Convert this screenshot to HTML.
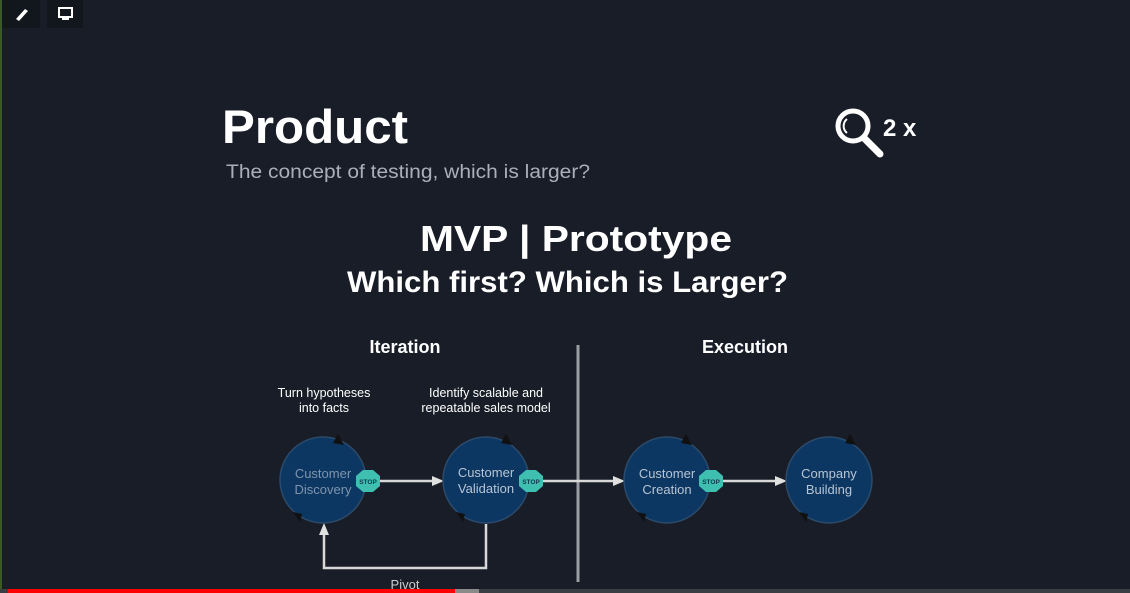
<!DOCTYPE html>
<html><head><style>
html,body{margin:0;padding:0;width:1130px;height:593px;overflow:hidden;background:#181d27;}
svg{display:block}
</style></head><body>
<svg width="1130" height="593" viewBox="0 0 1130 593" xmlns="http://www.w3.org/2000/svg" font-family="Liberation Sans, sans-serif">
<rect width="1130" height="593" fill="#181d27"/>
<rect x="0" y="0" width="2" height="593" fill="#3a5a20"/>
<rect x="2" y="0" width="38" height="28" fill="#12161d"/>
<rect x="47" y="0" width="36" height="28" fill="#12161d"/>
<path d="M16 19 L25 9 L28 11 L19 21 Z" fill="#fff"/>
<rect x="59" y="8" width="13" height="9" fill="none" stroke="#fff" stroke-width="2"/>
<rect x="62" y="18" width="7" height="2" fill="#fff"/>
<text x="222" y="143" font-size="47" font-weight="bold" fill="#fff" textLength="186" lengthAdjust="spacingAndGlyphs">Product</text>
<text x="226" y="178" font-size="19" fill="#aab0ba" textLength="364" lengthAdjust="spacingAndGlyphs">The concept of testing, which is larger?</text>
<circle cx="853" cy="126" r="15" fill="none" stroke="#fff" stroke-width="5"/>
<line x1="864" y1="138" x2="880" y2="154" stroke="#fff" stroke-width="7" stroke-linecap="round"/>
<path d="M847 119 A9 9 0 0 0 847 133" fill="none" stroke="#fff" stroke-width="2"/>
<text x="883" y="136" font-size="24" font-weight="bold" fill="#fff">2 x</text>
<text x="420" y="251" font-size="36" font-weight="bold" fill="#fff" textLength="312" lengthAdjust="spacingAndGlyphs">MVP | Prototype</text>
<text x="347" y="292" font-size="30" font-weight="bold" fill="#fff" textLength="441" lengthAdjust="spacingAndGlyphs">Which first? Which is Larger?</text>
<text x="405" y="353" font-size="18" font-weight="bold" fill="#fff" text-anchor="middle">Iteration</text>
<text x="745" y="353" font-size="18" font-weight="bold" fill="#fff" text-anchor="middle">Execution</text>
<text x="324" y="397" font-size="12.5" fill="#fff" text-anchor="middle">Turn hypotheses</text>
<text x="324" y="412" font-size="12.5" fill="#fff" text-anchor="middle">into facts</text>
<text x="486" y="397" font-size="12.5" fill="#fff" text-anchor="middle">Identify scalable and</text>
<text x="486" y="412" font-size="12.5" fill="#fff" text-anchor="middle">repeatable sales model</text>
<line x1="578" y1="345" x2="578" y2="582" stroke="#9a9ea4" stroke-width="3"/>
<g stroke="#d8d8d8" stroke-width="2.5" fill="none">
<line x1="378" y1="481" x2="436" y2="481"/>
<line x1="541" y1="481" x2="617" y2="481"/>
<line x1="720" y1="481" x2="779" y2="481"/>
<polyline points="486,524 486,568 324,568 324,532"/>
</g>
<g fill="#e0e0e0">
<path d="M444 481 L432 476 L432 486 Z"/>
<path d="M625 481 L613 476 L613 486 Z"/>
<path d="M787 481 L775 476 L775 486 Z"/>
<path d="M324 523 L319 535 L329 535 Z"/>
</g>
<g fill="#0c3763" stroke="#2c4a6a" stroke-width="1.5">
<circle cx="323" cy="480" r="43"/>
<circle cx="486" cy="480" r="43"/>
<circle cx="667" cy="480" r="43"/>
<circle cx="829" cy="480" r="43"/>
</g>
<g fill="#111">
<path d="M338 434 L344 445 L333 443 Z"/><path d="M300 522 L293 512 L302 514 Z"/>
<path d="M506 434 L512 445 L501 443 Z"/><path d="M463 522 L456 512 L465 514 Z"/>
<path d="M686 434 L692 445 L681 443 Z"/><path d="M644 522 L637 512 L646 514 Z"/>
<path d="M850 434 L856 445 L845 443 Z"/><path d="M806 522 L799 512 L808 514 Z"/>
</g>
<g font-size="13" text-anchor="middle">
<text x="323" y="478" fill="#7f94ab">Customer</text><text x="323" y="494" fill="#7f94ab">Discovery</text>
<text x="486" y="477" fill="#b7c4d2">Customer</text><text x="486" y="493" fill="#b7c4d2">Validation</text>
<text x="667" y="478" fill="#b7c4d2">Customer</text><text x="667" y="494" fill="#b7c4d2">Creation</text>
<text x="829" y="478" fill="#b7c4d2">Company</text><text x="829" y="494" fill="#b7c4d2">Building</text>
</g>
<g fill="#3fbfb0">
<polygon points="363,470 373,470 380,476 380,486 373,492 363,492 356,486 356,476"/>
<polygon points="526,470 536,470 543,476 543,486 536,492 526,492 519,486 519,476"/>
<polygon points="706,470 716,470 723,476 723,486 716,492 706,492 699,486 699,476"/>
</g>
<g font-size="6.5" font-weight="bold" fill="#0f3a50" text-anchor="middle">
<text x="368" y="484">STOP</text><text x="531" y="484">STOP</text><text x="711" y="484">STOP</text>
</g>
<text x="405" y="589" font-size="13" fill="#ccc" text-anchor="middle">Pivot</text>
<rect x="0" y="589" width="1130" height="4" fill="#3a3d42"/>
<rect x="8" y="589" width="447" height="4" fill="#ff0000"/>
<rect x="455" y="589" width="24" height="4" fill="#8a8a8a"/>
</svg>
</body></html>
